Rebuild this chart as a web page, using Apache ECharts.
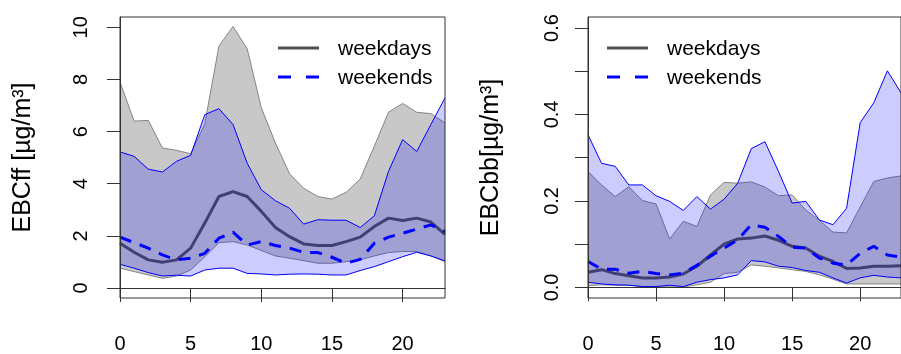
<!DOCTYPE html>
<html>
<head>
<meta charset="utf-8">
<script src="https://cdn.jsdelivr.net/npm/echarts@6/dist/echarts.min.js"></script>
<style>html,body{margin:0;padding:0;background:#fff}#c{width:901px;height:354px}</style>
</head>
<body>
<div id="c"></div>
<script>
const hours = [0,1,2,3,4,5,6,7,8,9,10,11,12,13,14,15,16,17,18,19,20,21,22,23];
const xTicks = [0,5,10,15,20];
const ffTicks = [0,2,4,6,8,10];
const bbTicks = [0,0.1,0.2,0.3,0.4,0.5,0.6];
const bbLabels = [0,0.2,0.4,0.6];

const ffWdUpper = [7.9,6.4,6.43,5.37,5.28,5.15,6.3,9.28,10.03,9.18,6.91,5.56,4.38,3.83,3.51,3.41,3.67,4.18,5.44,6.74,7.08,6.74,6.69,6.33];
const ffWdLower = [0.76,0.63,0.5,0.37,0.46,0.69,1.2,1.74,1.78,1.65,1.44,1.23,1.14,1.05,0.95,0.95,1.01,1.08,1.23,1.36,1.4,1.4,1.23,1.01];
const ffWdMed = [1.72,1.37,1.08,0.99,1.08,1.53,2.49,3.51,3.7,3.51,2.94,2.32,1.97,1.69,1.63,1.63,1.78,1.95,2.36,2.68,2.59,2.68,2.53,2.06];
const ffWeUpper = [5.22,5.05,4.56,4.45,4.86,5.09,6.65,6.88,6.27,4.79,3.77,3.35,3.06,2.45,2.62,2.6,2.6,2.32,2.77,4.47,5.69,5.24,6.27,7.29];
const ffWeLower = [0.91,0.76,0.59,0.46,0.49,0.46,0.69,0.76,0.76,0.56,0.54,0.5,0.53,0.54,0.53,0.5,0.5,0.67,0.82,1.01,1.2,1.37,1.23,1.04];
const ffWeMed = [1.95,1.74,1.53,1.27,1.08,1.14,1.33,1.91,2.14,1.65,1.78,1.63,1.53,1.37,1.36,1.18,0.95,1.1,1.72,1.95,2.1,2.26,2.42,2.17];

const bbWdUpper = [0.268,0.237,0.21,0.233,0.201,0.193,0.112,0.153,0.141,0.214,0.243,0.241,0.244,0.232,0.212,0.214,0.179,0.155,0.128,0.126,0.186,0.245,0.253,0.258];
const bbWdLower = [0.004,0.006,0.005,0.005,0.002,0.002,0.001,0.001,0.006,0.012,0.032,0.035,0.052,0.049,0.045,0.041,0.037,0.029,0.019,0.008,0.008,0.008,0.008,0.008];
const bbWdMed = [0.035,0.041,0.032,0.027,0.022,0.022,0.024,0.031,0.049,0.075,0.1,0.112,0.114,0.119,0.109,0.095,0.091,0.072,0.06,0.044,0.045,0.049,0.049,0.05];
const bbWeUpper = [0.353,0.287,0.28,0.237,0.237,0.212,0.199,0.178,0.21,0.181,0.204,0.241,0.321,0.337,0.268,0.195,0.199,0.156,0.145,0.183,0.381,0.427,0.501,0.45];
const bbWeLower = [0.012,0.008,0.006,0.005,0.002,0.002,0.005,0.002,0.012,0.018,0.022,0.029,0.062,0.059,0.049,0.046,0.039,0.035,0.022,0.01,0.022,0.028,0.024,0.022];
const bbWeMed = [0.06,0.042,0.042,0.033,0.037,0.032,0.029,0.033,0.051,0.072,0.091,0.11,0.145,0.139,0.118,0.093,0.091,0.068,0.056,0.052,0.079,0.095,0.075,0.07];

const FONT = "'Liberation Sans', Arial, sans-serif";
const AX = '#333';

function pairs(arr){ return hours.map((h,i)=>[h, arr[i]]); }

function band(gi, lower, upper, edge, fill, z){
  return {
    type:'custom', xAxisIndex:gi, yAxisIndex:gi, silent:true, z:z,
    data: hours.map((h,i)=>[h, lower[i], upper[i]]),
    encode:{x:0, y:[1,2]},
    renderItem:function(params, api){
      if (params.dataIndex !== 0) return null;
      const up = hours.map((h,i)=>api.coord([h, upper[i]]));
      const lo = hours.map((h,i)=>api.coord([h, lower[i]]));
      const poly = up.concat(lo.slice().reverse());
      return {
        type:'group',
        children:[
          {type:'polygon', shape:{points:poly}, style:{fill:fill, stroke:null}},
          {type:'polyline', shape:{points:up}, style:{stroke:edge, lineWidth:1, fill:null}},
          {type:'polyline', shape:{points:lo}, style:{stroke:edge, lineWidth:1, fill:null}}
        ]
      };
    }
  };
}
function medLine(gi, arr, color, dashed, z){
  return { type:'line', xAxisIndex:gi, yAxisIndex:gi, z:z, data:pairs(arr), showSymbol:false, symbol:'none',
    lineStyle:{color:color, width:3, type: dashed ? [12,9] : 'solid'}, silent:true };
}

const grids = [
  {left:120, top:17, width:325, height:281, show:true, borderColor:AX, borderWidth:1, z:20},
  {left:588, top:17, width:325, height:281, show:true, borderColor:AX, borderWidth:1, z:20}
];

function xAxis(gi){
  return { type:'value', gridIndex:gi, min:0, max:23, z:20,
    axisLine:{show:true, lineStyle:{color:AX, width:1}},
    axisTick:{show:true, length:14, lineStyle:{color:AX, width:1}, customValues:xTicks},
    axisLabel:{show:true, customValues:xTicks, margin:36, color:'#000', fontFamily:FONT, fontSize:20},
    splitLine:{show:false} };
}
function yAxis(gi, min, max, ticks, labels, name, fmt, margin){
  return { type:'value', gridIndex:gi, min:min, max:max, z:20,
    name:name, nameLocation:'middle', nameRotate:90, nameGap:84,
    nameTextStyle:{color:'#000', fontFamily:FONT, fontSize:25},
    axisLine:{show:true, lineStyle:{color:AX, width:1}},
    axisTick:{show:true, length:13, lineStyle:{color:AX, width:1}, customValues:ticks},
    axisLabel:{show:true, customValues:labels, rotate:90, margin:margin, color:'#000', fontFamily:FONT, fontSize:20, formatter:fmt},
    splitLine:{show:false} };
}

const GRAY_FILL = '#c8c8c8', GRAY_EDGE = '#858585', MED_GRAY = '#505050';
const BLUE_FILL = 'rgba(0,0,255,0.2)', BLUE = '#0000ff';

const series = [
  band(0, ffWdLower, ffWdUpper, GRAY_EDGE, GRAY_FILL, 1),
  medLine(0, ffWdMed, MED_GRAY, false, 2),
  band(0, ffWeLower, ffWeUpper, BLUE, BLUE_FILL, 3),
  medLine(0, ffWeMed, BLUE, true, 4),
  band(1, bbWdLower, bbWdUpper, GRAY_EDGE, GRAY_FILL, 1),
  medLine(1, bbWdMed, MED_GRAY, false, 2),
  band(1, bbWeLower, bbWeUpper, BLUE, BLUE_FILL, 3),
  medLine(1, bbWeMed, BLUE, true, 4)
];

function legend(x0, tx){
  return [
    {type:'line', z:100, shape:{x1:x0, y1:48, x2:x0+41, y2:48}, style:{stroke:MED_GRAY, lineWidth:3, fill:null}},
    {type:'line', z:100, shape:{x1:x0, y1:77, x2:x0+41, y2:77}, style:{stroke:BLUE, lineWidth:3, lineDash:[13,15], fill:null}},
    {type:'text', z:100, x:tx, y:49, style:{text:'weekdays', fill:'#000', font:'21px ' + FONT, textVerticalAlign:'middle'}},
    {type:'text', z:100, x:tx, y:78, style:{text:'weekends', fill:'#000', font:'21px ' + FONT, textVerticalAlign:'middle'}}
  ];
}

const chart = echarts.init(document.getElementById('c'), null, {renderer:'canvas'});
chart.setOption({
  animation:false,
  backgroundColor:'#fff',
  grid:grids,
  xAxis:[xAxis(0), xAxis(1)],
  yAxis:[
    yAxis(0, -0.383, 10.395, ffTicks, ffTicks, 'EBCff [µg/m³]', v=>String(v), 29),
    yAxis(1, -0.0245, 0.6254, bbTicks, bbLabels, 'EBCbb[µg/m³]', v=>v.toFixed(1), 26)
  ],
  series:series,
  graphic:legend(278, 338).concat(legend(607, 667))
});
</script>
</body>
</html>
